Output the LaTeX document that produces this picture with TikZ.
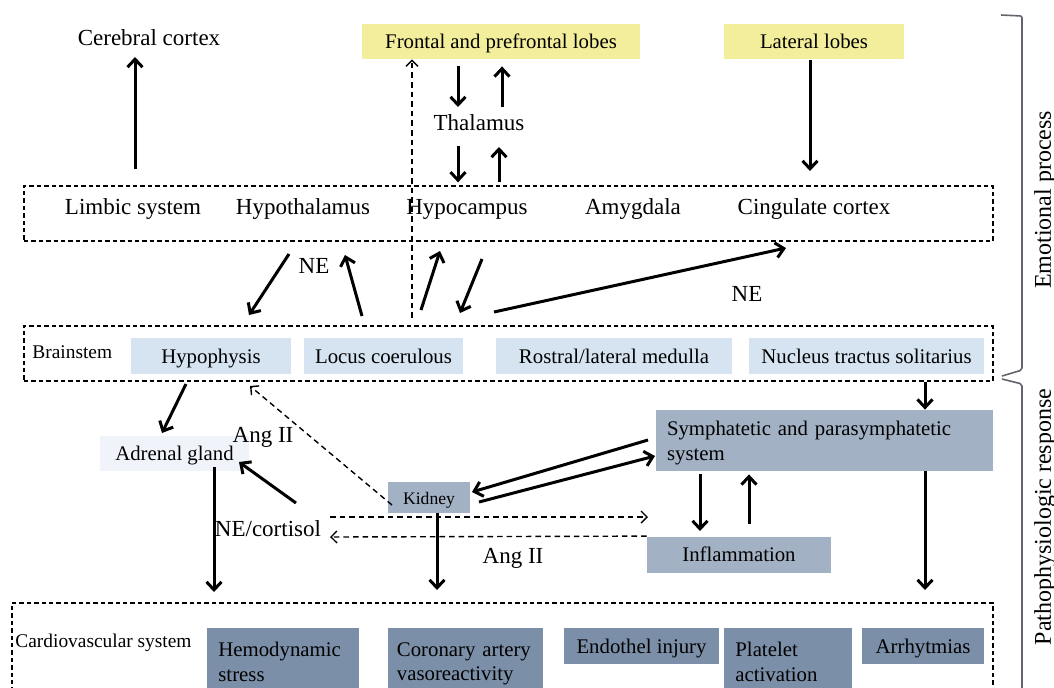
\documentclass[tikz,border=0pt]{standalone}
\usepackage{fontspec}
\setmainfont{Liberation Serif}
\usetikzlibrary{positioning, arrows.meta}

\definecolor{lobefill}{RGB}{243,238,156}
\definecolor{stemfill}{RGB}{213,228,240}
\definecolor{glandfill}{RGB}{240,244,250}
\definecolor{organfill}{RGB}{163,177,197}
\definecolor{heartfill}{RGB}{124,143,168}
\definecolor{bracegray}{RGB}{100,100,110}

\begin{document}
\begin{tikzpicture}[
        x=0.5pt, y=-0.5pt,
        txt/.style={inner sep=0pt, font=\fontsize{11.5}{13}\selectfont},
        smalltxt/.style={inner sep=0pt, font=\fontsize{9.7}{11}\selectfont},
        sidetxt/.style={inner sep=0pt, rotate=90, font=\fontsize{12}{14}\selectfont},
        block/.style={rectangle, inner sep=0pt, font=\fontsize{10.4}{12.4}\selectfont},
        oneline/.style={block, text height=8.4pt, text depth=1.4pt},
        tallblock/.style={block, anchor=north west, align=left, inner xsep=5.5pt, inner ysep=7pt},
        region/.style={rectangle, draw, dash pattern=on 2.2pt off 1.5pt, line width=0.65pt},
        arrow/.style={-{Straight Barb[length=4pt, width=7.5pt]}, line width=1.5pt},
        dasharrow/.style={-{Straight Barb[length=3pt, width=6pt]}, dash pattern=on 2.8pt off 2pt, line width=0.7pt},
        brace/.style={draw=bracegray, line width=0.8pt, rounded corners=1pt},
    ]
    \useasboundingbox (0,0) rectangle (1054,687);
    \clip (0,0) rectangle (1054,687);

    % dashed regions
    \node[region, minimum width=484.5pt, minimum height=27.5pt] (emotion) at (508.5,213.5) {};
    \node[region, minimum width=484.5pt, minimum height=27.5pt] (stem) at (508.5,353.5) {};
    \node[region, minimum width=490.5pt, minimum height=53.5pt] (cardio) at (502.5,656.5) {};

    % cortex and limbic system
    \node[txt] (cerebral) at (149,38) {Cerebral cortex};
    \node[oneline, fill=lobefill, minimum width=139pt, minimum height=17.5pt] (frontal) at (501,41.5) {Frontal and prefrontal lobes};
    \node[oneline, fill=lobefill, minimum width=90pt, minimum height=17.5pt] (lateral) at (814,41.5) {Lateral lobes};
    \node[txt] (thalamus) at (479,123) {Thalamus};
    \node[txt] (limbic) at (133,209) {Limbic system};
    \node[txt] (hypothal) at (303,209) {Hypothalamus};
    \node[txt] (hypocamp) at (467,209) {Hypocampus};
    \node[txt] (amygdala) at (633,209) {Amygdala};
    \node[txt] (cingulate) at (814,209) {Cingulate cortex};
    \node[txt] (ne-left) at (314,266) {NE};
    \node[txt] (ne-right) at (747,294) {NE};

    % brainstem
    \node[smalltxt, anchor=west] (brainstem) at (32,352) {Brainstem};
    \node[oneline, fill=stemfill, minimum width=80pt, minimum height=18pt] (hypophysis) at (211,356) {Hypophysis};
    \node[oneline, fill=stemfill, minimum width=79.5pt, minimum height=18pt] (locus) at (383.5,356) {Locus coerulous};
    \node[oneline, fill=stemfill, minimum width=118pt, minimum height=18pt] (rostral) at (614,356) {Rostral/lateral medulla};
    \node[oneline, fill=stemfill, minimum width=117.5pt, minimum height=18pt] (nts) at (866.5,356) {Nucleus tractus solitarius};

    % pathophysiologic response
    \node[oneline, fill=glandfill, minimum width=74.5pt, minimum height=17.5pt] (adrenal) at (174.5,453.5) {Adrenal gland};
    \node[oneline, fill=organfill, minimum width=41pt, minimum height=15.5pt, font=\fontsize{8.8}{10}\selectfont] (kidney) at (429,497.5) {Kidney};
    \node[block, fill=organfill, align=left, text width=157.5pt, inner xsep=5.5pt, minimum height=30.5pt] (symp) at (824.5,440.5) {\rule{0pt}{10pt}Symphatetic and parasymphatetic\\system};
    \node[oneline, fill=organfill, minimum width=92pt, minimum height=18pt] (inflam) at (739,554.5) {Inflammation};
    \node[txt] (angii-up) at (263,437) {Ang II};
    \node[txt] (necort) at (268,529) {NE/cortisol};
    \node[txt] (angii-down) at (513,558) {Ang II};

    % cardiovascular system
    \node[smalltxt, anchor=west] (cardiolabel) at (15,643) {Cardiovascular system};
    \node[tallblock, fill=heartfill, text width=65pt] (hemo) at (207,628) {Hemodynamic\\stress\rule[-16pt]{0pt}{0pt}};
    \node[tallblock, fill=heartfill, text width=69pt, inner xsep=4.25pt] (coronary) at (388,628) {Coronary artery\\vasoreactivity\rule[-16pt]{0pt}{0pt}};
    \node[oneline, fill=heartfill, minimum width=77.5pt, minimum height=18pt] (endothel) at (641.5,646) {Endothel injury};
    \node[tallblock, fill=heartfill, text width=53pt] (platelet) at (724,628) {Platelet\\activation\rule[-16pt]{0pt}{0pt}};
    \node[oneline, fill=heartfill, minimum width=61pt, minimum height=18pt] (arrhyt) at (923,646) {Arrhytmias};

    % side braces
    \draw[brace] (1001,15) -- (1022,16) -- (1022,370) -- (1002,376);
    \draw[brace] (1002,379) -- (1022,384) -- (1022,700);
    \node[sidetxt] (emo) at (1045,200) {Emotional process};
    \node[sidetxt] (patho) at (1045,517) {Pathophysiologic response};

    % arrow ends
    \coordinate (limbic-up) at (135,169);
    \coordinate (cortex-in) at (135,57);
    \coordinate (stem-up) at (412,318);
    \coordinate (thal-a) at (458,107);
    \coordinate (thal-b) at (502,107);
    \coordinate (thal-c) at (458,146);
    \coordinate (thal-d) at (499,147);
    \coordinate (cing-in) at (810,171);
    \coordinate (ne-a1) at (289,254);
    \coordinate (ne-a2) at (249,315);
    \coordinate (ne-b1) at (362,316);
    \coordinate (ne-b2) at (345,255);
    \coordinate (hc-a1) at (421,310);
    \coordinate (hc-a2) at (440,251);
    \coordinate (hc-b1) at (482,259);
    \coordinate (hc-b2) at (460,313);
    \coordinate (cg-1) at (494,312);
    \coordinate (cg-2) at (786,248);
    \coordinate (hyp-out) at (186,384);
    \coordinate (gland-in) at (162,433);
    \coordinate (kid-out) at (392,505);
    \coordinate (hyp-in) at (250,386);
    \coordinate (ang-1) at (296,503);
    \coordinate (ang-2) at (239,462);
    \coordinate (symp-l1) at (648,440);
    \coordinate (kid-in) at (472,492);
    \coordinate (kid-o) at (479,502);
    \coordinate (symp-l2) at (655,456);
    \coordinate (nts-out) at (925,382);
    \coordinate (dl-1) at (330,517);
    \coordinate (dl-2) at (648,517);
    \coordinate (dl-4) at (330,537);
    \coordinate (gland-out) at (214,467);
    \coordinate (heart-a) at (214,592);
    \coordinate (heart-b) at (437,590);
    \coordinate (heart-c) at (925,590);
    \coordinate (inf-a) at (700,531);
    \coordinate (inf-b) at (749,524);

    % emotional arrows
    \draw[arrow] (limbic-up) -- (cortex-in);
    \draw[dasharrow] (stem-up) -- (stem-up |- frontal.south);
    \draw[arrow, shorten <=3.5pt] (thal-a |- frontal.south) -- (thal-a);
    \draw[arrow, shorten >=3.5pt] (thal-b) -- (thal-b |- frontal.south);
    \draw[arrow, shorten >=1.5pt] (thal-c) -- (thal-c |- emotion.north);
    \draw[arrow, shorten <=1.5pt] (thal-d |- emotion.north) -- (thal-d);
    \draw[arrow, shorten <=0.5pt] (cing-in |- lateral.south) -- (cing-in);
    \draw[arrow] (ne-a1) -- (ne-a2);
    \draw[arrow] (ne-b1) -- (ne-b2);
    \draw[arrow] (hc-a1) -- (hc-a2);
    \draw[arrow] (hc-b1) -- (hc-b2);
    \draw[arrow] (cg-1) -- (cg-2);

    % response arrows
    \draw[arrow] (hyp-out) -- (gland-in);
    \draw[dasharrow] (kid-out) -- (hyp-in);
    \draw[arrow] (ang-1) -- (ang-2);
    \draw[arrow] (symp-l1) -- (kid-in);
    \draw[arrow] (kid-o) -- (symp-l2);
    \draw[arrow] (nts-out) -- (nts-out |- symp.north);
    \draw[dasharrow] (dl-1) -- (dl-2);
    \draw[dasharrow] (inflam.north west) -- (dl-4);
    \draw[arrow] (gland-out) -- (heart-a);
    \draw[arrow] (heart-b |- kidney.south) -- (heart-b);
    \draw[arrow] (heart-c |- symp.south) -- (heart-c);
    \draw[arrow, shorten <=1.5pt] (inf-a |- symp.south) -- (inf-a);
    \draw[arrow, shorten >=1.5pt] (inf-b) -- (inf-b |- symp.south);
\end{tikzpicture}
\end{document}
